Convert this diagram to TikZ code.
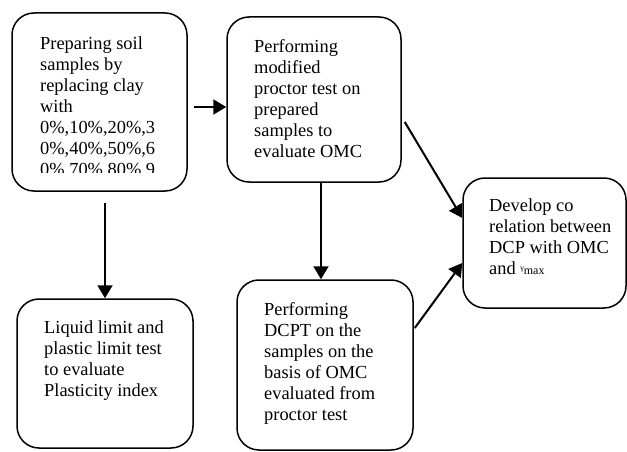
\documentclass[tikz,border=0pt]{standalone}
\usepackage{fontspec}
\setmainfont{Liberation Serif}
\usetikzlibrary{arrows.meta,calc}
\begin{document}
\begin{tikzpicture}[x=1pt,y=-1pt,
  box/.style={draw=black,line width=1.5pt,rounded corners=22pt,inner sep=0pt},
  txt/.style={anchor=north west,align=left,inner sep=0pt,font=\fontsize{18.4}{21}\selectfont},
  arr/.style={line width=2pt,-{Triangle[length=13pt,width=15pt]}}]
\useasboundingbox (0,0) rectangle (627,452);
\node[box,minimum width=175pt,minimum height=178pt] (b1) at (99.5,102) {};
\node[box,minimum width=174pt,minimum height=165pt] (b2) at (314,99.5) {};
\node[box,minimum width=176pt,minimum height=149pt] (b3) at (105,373.5) {};
\node[box,minimum width=176pt,minimum height=170pt] (b4) at (325,365) {};
\node[box,minimum width=163pt,minimum height=130pt] (b5) at (544.5,243) {};
\begin{scope}
\clip (20,20) rectangle (180,172);
\node[txt] (t1) at (40,37) {Preparing soil\\samples by\\replacing clay\\with\\0\%,10\%,20\%,3\\0\%,40\%,50\%,6\\0\%,70\%,80\%,9};
\end{scope}
\node[txt] (t2) at (254,39) {Performing\\modified\\proctor test on\\prepared\\samples to\\evaluate OMC};
\node[txt] (t3) at (44,321) {Liquid limit and\\plastic limit test\\to evaluate\\Plasticity index};
\node[txt] (t4) at (264,302) {Performing\\DCPT on the\\samples on the\\basis of OMC\\evaluated from\\proctor test};
\node[txt] (t5) at (489,199) {Develop co\\relation between\\DCP with OMC\\and {\fontsize{8}{8}\selectfont\raisebox{4pt}{γ}}{\fontsize{12}{12}\selectfont max}};
\coordinate (s1) at ($(b1.east)+(6,5)$);
\coordinate (s2) at ($(b3.north)+(0,-95)$);
\coordinate (s3) at ($(b2.south)+(7,0)$);
\coordinate (s4) at ($(b2.east)+(3,22.5)$);
\coordinate (s5) at ($(b4.east)+(1,-37)$);
\coordinate (e4) at ($(b5.west)+(0,-25)$);
\coordinate (e5) at ($(b5.west)+(0,20)$);
\draw[arr] (s1) -- (s1 -| b2.west);
\draw[arr] (s2) -- (b3.north);
\draw[arr] (s3) -- (s3 |- b4.north);
\draw[arr] (s4) -- (e4);
\draw[arr] (s5) -- (e5);
\end{tikzpicture}
\end{document}
